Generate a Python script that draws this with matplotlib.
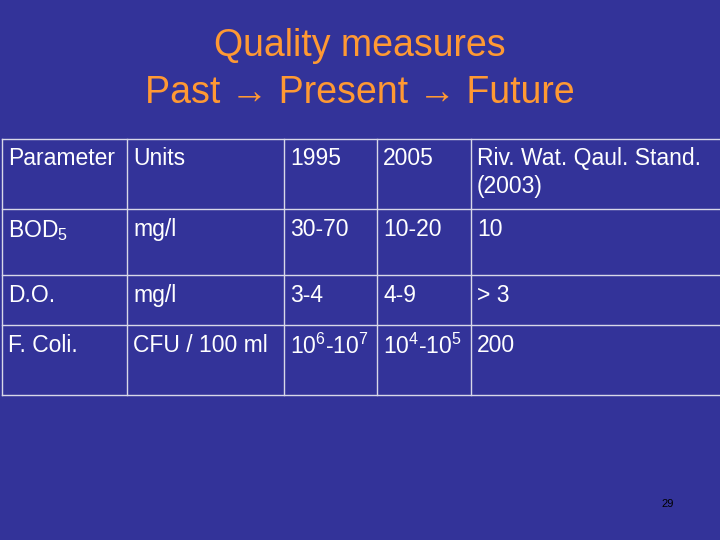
import matplotlib
matplotlib.use("Agg")
import matplotlib.pyplot as plt

plt.rcParams['font.family'] = ['Liberation Sans', 'DejaVu Sans']
plt.rcParams['mathtext.fontset'] = 'custom'
plt.rcParams['mathtext.rm'] = 'Liberation Sans'
plt.rcParams['mathtext.it'] = 'Liberation Sans'
plt.rcParams['mathtext.default'] = 'rm'

title_lines = ["Quality measures", "Past \u2192 Present \u2192 Future"]
headers = ["Parameter", "Units", "1995", "2005", "Riv. Wat. Qaul. Stand.\n(2003)"]
rows = [
    ["BOD$_5$", "mg/l", "30-70", "10-20", "10"],
    ["D.O.", "mg/l", "3-4", "4-9", "> 3"],
    ["F. Coli.", "CFU / 100 ml", "10$^6$-10$^7$", "10$^4$-10$^5$", "200"],
]
page = "29"

col_x = [2, 127, 284, 377, 471, 722]
row_y = [139, 209, 275, 325, 395]

bg = "#333399"
fig = plt.figure(figsize=(7.2, 5.4), dpi=100, facecolor=bg)
ax = fig.add_axes([0, 0, 1, 1])
ax.set_xlim(0, 720); ax.set_ylim(540, 0); ax.axis('off')
ax.set_facecolor(bg)

ax.text(360, 46, title_lines[0], color="#FF9933", fontsize=27, ha='center', va='center')
ax.text(360, 93, title_lines[1], color="#FF9933", fontsize=27, ha='center', va='center')

lc = "#D8D8E8"
for y in row_y:
    ax.plot([col_x[0], col_x[-1]], [y, y], color=lc, lw=1)
for x in col_x:
    ax.plot([x, x], [row_y[0], row_y[-1]], color=lc, lw=1)

fs = 16.5
for j, h in enumerate(headers):
    ax.text(col_x[j] + 6, 147, h, color='white', fontsize=fs, ha='left', va='top', linespacing=1.3)
for i, r in enumerate(rows):
    for j, v in enumerate(r):
        ax.text(col_x[j] + 6, row_y[i + 1] + 9, v, color='white', fontsize=fs, ha='left', va='top')

ax.text(668, 504, page, color='black', fontsize=8, ha='center', va='center')
fig.savefig("out.png", dpi=100, facecolor=bg)
